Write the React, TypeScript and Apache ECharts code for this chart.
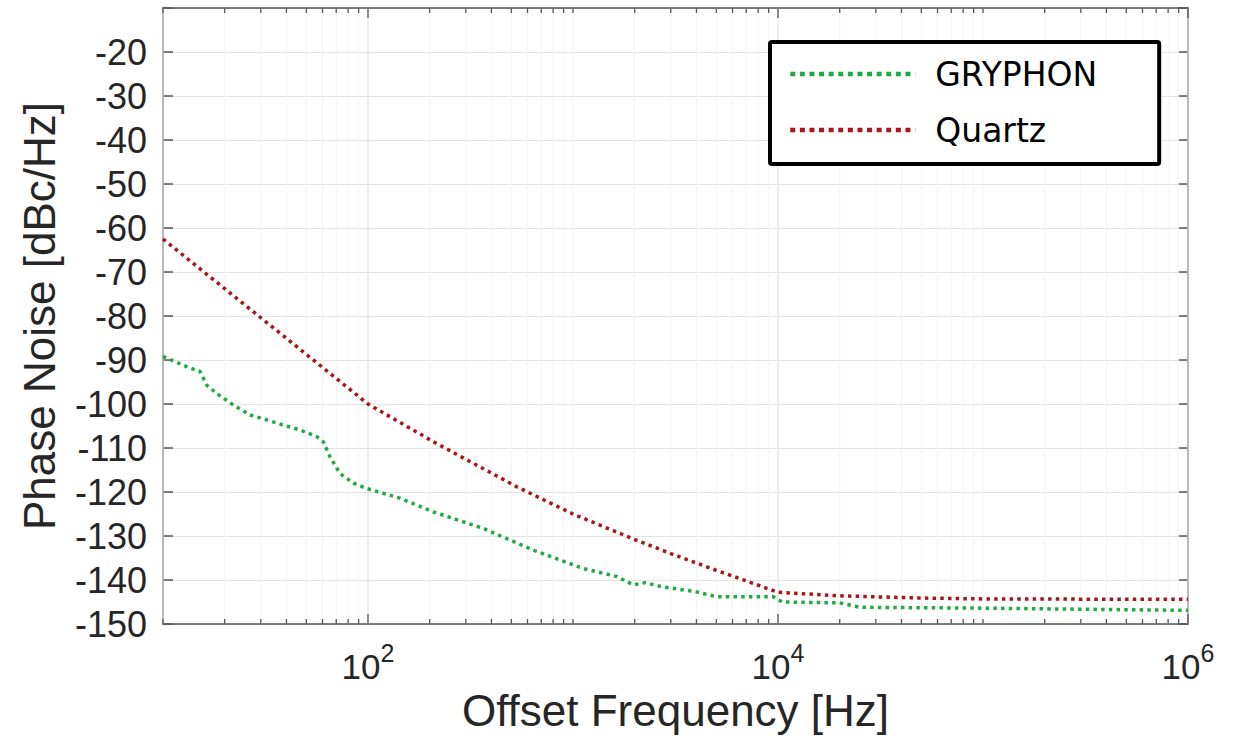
import React, { useEffect, useRef } from "react";
import * as echarts from "echarts";

// ---- data ----
const GRYPHON_FREQ = [10, 13.05, 15.15, 16.34, 18.28, 22.0, 26.6, 32.1, 38.6, 46.6, 56.2, 60.6, 65.3, 73.0, 84.8, 98.6, 143, 208, 366, 640, 1122, 1634, 1968, 2250, 2700, 4000, 5000, 9500, 10500, 20000, 25000, 100000, 1000000];
const GRYPHON_DB = [-89.2, -91.5, -92.6, -95.7, -97.6, -100.2, -102.5, -103.6, -104.8, -105.9, -107.4, -108.6, -112.0, -115.8, -118.0, -119.2, -121.4, -124.5, -128.3, -133.2, -137.4, -139.2, -141.1, -140.6, -141.5, -142.7, -143.8, -143.8, -145.0, -145.2, -146.2, -146.4, -146.9];

const QUARTZ_FREQ = [10, 20, 50, 100, 209, 531, 1000, 2000, 3000, 5000, 7000, 10000, 20000, 50000, 100000, 1000000];
const QUARTZ_DB = [-62.5, -73.8, -88.7, -100, -108.6, -118.8, -125.0, -130.8, -134.0, -137.8, -140.2, -142.8, -143.6, -144.1, -144.3, -144.4];

const SERIES_NAMES = ["GRYPHON", "Quartz"];
const X_MIN = 10;
const X_MAX = 1e6;
const Y_MIN = -150;
const Y_MAX = -10;
const Y_STEP = 10;
const X_LABEL_EXPONENTS = [2, 4, 6];

// tick positions of the log axis: k * 10^d
const X_TICKS: number[][] = [];
for (let d = 1; d <= 6; d++) {
  const base = Math.pow(10, d);
  X_TICKS.push([base, X_LABEL_EXPONENTS.indexOf(d) >= 0 ? 1 : 0]);
  if (d < 6) for (let k = 2; k <= 9; k++) X_TICKS.push([k * base, 0]);
}

const AXIS_COLOR = "#262626";
const FONT = "'Liberation Sans', Arial, sans-serif";

export default function App() {
  const ref = useRef<HTMLDivElement>(null);
  useEffect(() => {
    const chart = echarts.init(ref.current!, null, { renderer: "svg" });
    const pairs = (xs: number[], ys: number[]) => xs.map((x, i) => [x, ys[i]]);
    const option: any = {
      animation: false,
      backgroundColor: "#fff",
      grid: { left: 163, right: 46, top: 8, bottom: 122, containLabel: false },
      legend: {
        data: SERIES_NAMES,
        orient: "vertical",
        left: 770,
        top: 42,
        itemWidth: 125,
        itemHeight: 16,
        itemGap: 16,
        padding: [12, 62, 14, 18],
        borderColor: "#000",
        borderWidth: 4,
        borderRadius: 2,
        backgroundColor: "#fff",
        itemStyle: { opacity: 0, color: "rgba(0,0,0,0)", borderWidth: 0 },
        lineStyle: { type: [5, 4.6], width: 4.5 },
        textStyle: {
          fontFamily: "'DejaVu Sans', sans-serif",
          fontSize: 33,
          color: "#000",
          lineHeight: 40,
          padding: [0, 0, 0, 15],
        },
      },
      xAxis: [
        {
          type: "log",
          logBase: 10,
          min: X_MIN,
          max: X_MAX,
          name: "Offset Frequency [Hz]",
          nameLocation: "middle",
          nameGap: 58,
          nameTextStyle: { fontFamily: FONT, fontSize: 44, color: AXIS_COLOR },
          axisLine: { show: true, lineStyle: { color: "#555", width: 1.5 } },
          axisTick: { show: false },
          splitLine: { show: false },
          axisLabel: {
            margin: 16,
            formatter: (v: number) => {
              const e = Math.round(Math.log10(v));
              return X_LABEL_EXPONENTS.indexOf(e) >= 0 ? `{b|10}{s|${e}}` : "";
            },
            rich: {
              b: { fontFamily: FONT, fontSize: 35, color: AXIS_COLOR, lineHeight: 44, verticalAlign: "bottom" },
              s: { fontFamily: FONT, fontSize: 25, color: AXIS_COLOR, lineHeight: 44, verticalAlign: "top" },
            },
          },
        },
        {
          type: "log",
          logBase: 10,
          min: X_MIN,
          max: X_MAX,
          position: "top",
          axisLine: { show: true, lineStyle: { color: "#555", width: 1.5 } },
          axisTick: { show: false },
          axisLabel: { show: false },
          splitLine: { show: false },
        },
      ],
      yAxis: [
        {
          type: "value",
          min: Y_MIN,
          max: Y_MAX,
          interval: Y_STEP,
          name: "Phase Noise [dBc/Hz]",
          nameLocation: "middle",
          nameGap: 102,
          nameTextStyle: { fontFamily: FONT, fontSize: 44, color: AXIS_COLOR },
          axisLine: { show: true, lineStyle: { color: "#555", width: 1.5 } },
          axisTick: { show: true, inside: true, length: 10, lineStyle: { color: "#555", width: 1.5 } },
          axisLabel: {
            margin: 16,
            fontFamily: FONT,
            fontSize: 36,
            color: AXIS_COLOR,
            formatter: (v: number) => (v === Y_MAX ? "" : String(v)),
          },
          splitLine: { show: true, lineStyle: { color: "#e3e3e3", width: 1.2 } },
        },
        {
          type: "value",
          min: Y_MIN,
          max: Y_MAX,
          interval: Y_STEP,
          position: "right",
          axisLine: { show: true, lineStyle: { color: "#555", width: 1.5 } },
          axisTick: { show: true, inside: true, length: 10, lineStyle: { color: "#555", width: 1.5 } },
          axisLabel: { show: false },
          splitLine: { show: false },
        },
      ],
      series: [
        {
          type: "custom",
          name: "xticks",
          xAxisIndex: 0,
          yAxisIndex: 0,
          z: 1,
          silent: true,
          data: X_TICKS,
          encode: { x: 0 },
          renderItem: (params: any, api: any) => {
            const f = api.value(0);
            const major = api.value(1) === 1;
            const b = api.coord([f, Y_MIN]);
            const t = api.coord([f, Y_MAX]);
            const len = major ? 10 : 5;
            const tickStyle = { stroke: "#555", lineWidth: 1.3 };
            return {
              type: "group",
              children: [
                {
                  type: "line",
                  shape: { x1: b[0], y1: b[1], x2: t[0], y2: t[1] },
                  style: { stroke: major ? "#e3e3e3" : "#f4f4f4", lineWidth: major ? 1.2 : 1 },
                },
                { type: "line", shape: { x1: b[0], y1: b[1], x2: b[0], y2: b[1] - len }, style: tickStyle },
                { type: "line", shape: { x1: t[0], y1: t[1], x2: t[0], y2: t[1] + len }, style: tickStyle },
              ],
            };
          },
        },
        {
          type: "line",
          name: SERIES_NAMES[0],
          data: pairs(GRYPHON_FREQ, GRYPHON_DB),
          symbol: "none",
          showSymbol: false,
          z: 3,
          lineStyle: { color: "#23a846", width: 3.5, type: [3.5, 4.2] },
          itemStyle: { color: "#12b050" },
        },
        {
          type: "line",
          name: SERIES_NAMES[1],
          data: pairs(QUARTZ_FREQ, QUARTZ_DB),
          symbol: "none",
          showSymbol: false,
          z: 3,
          lineStyle: { color: "#a8161c", width: 3.5, type: [3.5, 4.2] },
          itemStyle: { color: "#c00000" },
        },
      ],
    };
    chart.setOption(option);
    return () => chart.dispose();
  }, []);
  return (
    <div
      ref={ref}
      style={{ position: "fixed", left: 0, top: 0, width: 1234, height: 746, background: "#fff" }}
    />
  );
}
